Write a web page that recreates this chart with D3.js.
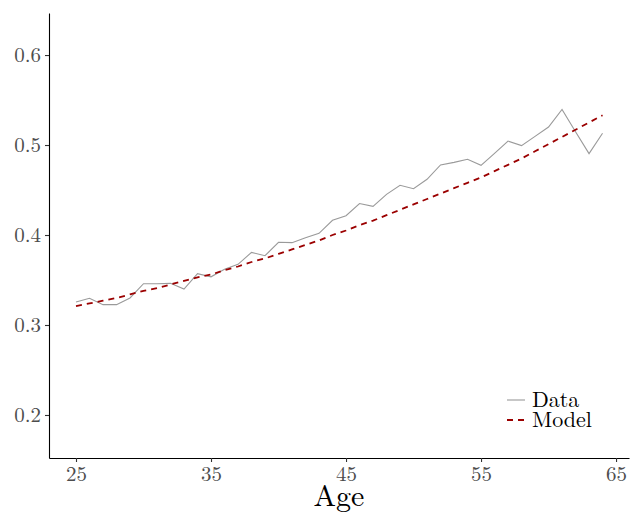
<!DOCTYPE html>
<html><head><meta charset="utf-8">
<script src="https://cdn.jsdelivr.net/npm/d3@7"></script>
<style>body{margin:0;background:#fff}svg{display:block}</style>
</head><body>
<script>
const ages = d3.range(25, 65);
const dataValues = [0.3256,0.3297,0.3226,0.3226,0.3300,0.3459,0.3459,0.3463,0.3400,0.3570,
  0.3535,0.3619,0.3674,0.3807,0.3770,0.3919,0.3915,0.3970,0.4019,0.4163,
  0.4215,0.4350,0.4319,0.4452,0.4552,0.4515,0.4619,0.4778,0.4807,0.4841,
  0.4774,0.4908,0.5044,0.4993,0.5096,0.5200,0.5396,0.5148,0.4904,0.5130];
const modelValues = [0.321,0.324,0.327,0.330,0.334,0.338,0.341,0.345,0.349,0.353,
  0.356,0.361,0.365,0.370,0.374,0.379,0.384,0.389,0.394,0.400,
  0.405,0.411,0.416,0.422,0.428,0.434,0.440,0.446,0.452,0.458,
  0.464,0.471,0.478,0.485,0.493,0.501,0.509,0.517,0.525,0.533];
const xTicks = [25,35,45,55,65];
const yTicks = [0.2,0.3,0.4,0.5,0.6];
const legendLabels = ["Data","Model"];

const W=634,H=512;
const svg=d3.select("body").append("svg").attr("width",W).attr("height",H);
const x=d3.scaleLinear().domain([23.0,65.96]).range([49,629]);
const y=d3.scaleLinear().domain([0.1522,0.6467]).range([458,13]);
const font="'Latin Modern Roman','CMU Serif','Liberation Serif','DejaVu Serif',serif";

// axes
const xa=svg.append("g").attr("transform","translate(0,458)")
  .call(d3.axisBottom(x).tickValues(xTicks).tickSize(4).tickSizeOuter(0).tickPadding(3).tickFormat(d3.format("d")));
const ya=svg.append("g").attr("transform","translate(49,0)")
  .call(d3.axisLeft(y).tickValues(yTicks).tickSize(4).tickSizeOuter(0).tickPadding(4).tickFormat(d3.format(".1f")));
[xa,ya].forEach(g=>{
  g.select(".domain").attr("stroke","#000").attr("stroke-width",1.1);
  g.selectAll(".tick line").attr("stroke","#333").attr("stroke-width",1.1);
  g.selectAll(".tick text").attr("fill","#4d4d4d").style("font-family",font).style("font-size","21px");
});
xa.selectAll(".tick text").attr("dy","0.75em");

const line=d3.line().x((d,i)=>x(ages[i])).y(d=>y(d));
svg.append("path").datum(dataValues).attr("d",line)
  .attr("fill","none").attr("stroke","#9a9a9a").attr("stroke-width",1.1);
svg.append("path").datum(modelValues).attr("d",line)
  .attr("fill","none").attr("stroke","#9b0000").attr("stroke-width",1.8).attr("stroke-dasharray","6,5");

svg.append("text").attr("x",339).attr("y",506).attr("text-anchor","middle")
  .style("font-family",font).style("font-size","30px").attr("fill","#000").text("Age");

// legend
const lg=svg.append("g");
legendLabels.forEach((t,i)=>{
  const yy=400+i*20;
  lg.append("line").attr("x1",507).attr("x2",525).attr("y1",yy).attr("y2",yy)
    .attr("stroke",i===0?"#9a9a9a":"#9b0000").attr("stroke-width",i===0?1.1:1.8)
    .attr("stroke-dasharray",i===0?null:"6,5");
  lg.append("text").attr("x",532).attr("y",yy+7).text(t)
    .style("font-family",font).style("font-size","22px").attr("fill","#000");
});
</script>
</body></html>
